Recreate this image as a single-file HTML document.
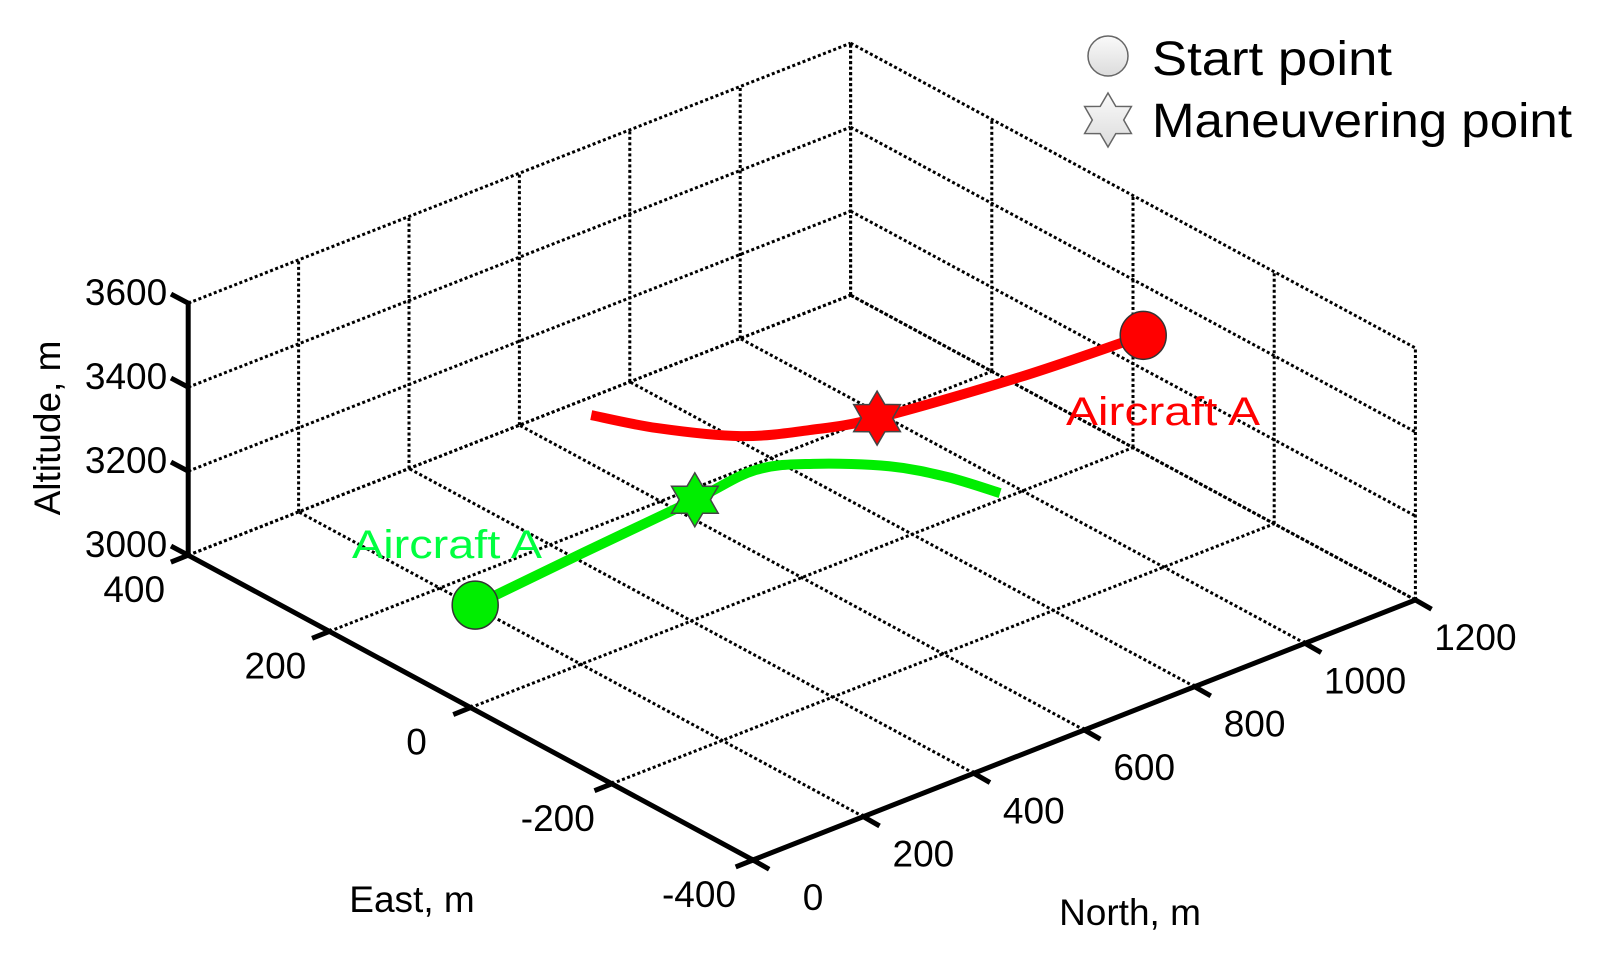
<!DOCTYPE html>
<html><head><meta charset="utf-8"><style>
html,body{margin:0;padding:0;background:#fff;}
svg{display:block;font-family:"Liberation Sans",Arial,sans-serif;}
</style></head><body>
<svg id="chart" width="1610" height="957" viewBox="0 0 1610 957" xmlns="http://www.w3.org/2000/svg">
<g id="grid"></g>
<g id="axes"></g>
<g id="series"></g>
<text x="0" y="0" font-size="37" text-anchor="middle" transform="translate(60,428) rotate(-90)">Altitude, m</text>
<text x="412" y="912" font-size="37" text-anchor="middle">East, m</text>
<text x="1130" y="925" font-size="37" text-anchor="middle">North, m</text>
<g>
  <defs><linearGradient id="lg" x1="0" y1="0" x2="0" y2="1"><stop offset="0" stop-color="#fafafa"/><stop offset="1" stop-color="#dcdcdc"/></linearGradient></defs>
  <circle cx="1108" cy="56" r="20" fill="url(#lg)" stroke="#666" stroke-width="1.5"/>
  <text x="1152" y="75" font-size="48" textLength="240" lengthAdjust="spacingAndGlyphs">Start point</text>
  <polygon id="legStar" fill="url(#lg)" stroke="#666" stroke-width="1.5"/>
  <text x="1152" y="137" font-size="48" textLength="420" lengthAdjust="spacingAndGlyphs">Maneuvering point</text>
</g>
<text x="1066" y="425" font-size="40" fill="#ff0000" textLength="194" lengthAdjust="spacingAndGlyphs">Aircraft A</text>
<text x="352" y="558" font-size="40" fill="#00ff40" textLength="190" lengthAdjust="spacingAndGlyphs">Aircraft A</text>
</svg>
<script>
const northTicks = [0,200,400,600,800,1000,1200];
const eastTicks = [-400,-200,0,200,400];
const altTicks = [3000,3200,3400,3600];
const greenN = [204,418,639,760,833,908,948,972];
const greenE = [153,168,182,191,166,117,66,10];
const greenA = [3000,3000,3000,3000,3000,3000,3000,3000];
const greenStar = 2;
const redN = [1184,974,744,650,566,494,450];
const redE = [-27,-17,6,28,60,122,181];
const redA = [3300,3300,3300,3300,3300,3300,3300];
const redStar = 2;

const NS="http://www.w3.org/2000/svg";
function px(n,e,a){
  const ee=e+400;
  return [753+0.552*n-0.706*ee, 860-0.2167*n-0.381*ee-0.42*(a-3000)];
}
function mk(tag,attrs,parent){const el=document.createElementNS(NS,tag);for(const k in attrs)el.setAttribute(k,attrs[k]);parent.appendChild(el);return el;}
const grid=document.getElementById('grid'),axes=document.getElementById('axes'),series=document.getElementById('series');
function dline(p,q){const el=mk('line',{x1:p[0],y1:p[1],x2:q[0],y2:q[1],stroke:'#000','stroke-width':3,'stroke-dasharray':'3 2.5'},grid);

}
const N0=northTicks[0],N1=northTicks[northTicks.length-1],E0=eastTicks[0],E1=eastTicks[eastTicks.length-1],A0=altTicks[0],A1=altTicks[altTicks.length-1];
northTicks.forEach(n=>{dline(px(n,E0,A0),px(n,E1,A0));dline(px(n,E1,A0),px(n,E1,A1));});
eastTicks.forEach(e=>{dline(px(N0,e,A0),px(N1,e,A0));dline(px(N1,e,A0),px(N1,e,A1));});
altTicks.forEach(a=>{dline(px(N0,E1,a),px(N1,E1,a));dline(px(N1,E1,a),px(N1,E0,a));});
function sline(p,q,name){const el=mk('line',{x1:p[0],y1:p[1],x2:q[0],y2:q[1],stroke:'#000','stroke-width':5,'stroke-linecap':'square'},axes);

}
sline(px(N0,E1,A0),px(N0,E1,A1),'altitude-axis');
sline(px(N0,E0,A0),px(N0,E1,A0),'east-axis');
sline(px(N0,E0,A0),px(N1,E0,A0),'north-axis');
function label(x,y,t,anchor,name){const el=mk('text',{x:x,y:y,'font-size':37,'text-anchor':anchor},axes);el.textContent=t;

}
altTicks.forEach(a=>{const p=px(N0,E1,a);sline(p,[p[0]-15,p[1]-8],'altitude-tick');label(p[0]-21,p[1]+2,String(a),'end','altitude-tick-label');});
eastTicks.forEach(e=>{const p=px(N0,e,A0);sline(p,[p[0]-15,p[1]+6],'east-tick');label(p[0]-54,p[1]+47,String(e),'middle','east-tick-label');});
northTicks.forEach(n=>{const p=px(n,E0,A0);sline(p,[p[0]+14,p[1]+8],'north-tick');label(p[0]+60,p[1]+50,String(n),'middle','north-tick-label');});
function smooth(pts){let d='M'+pts[0][0]+','+pts[0][1];for(let i=0;i<pts.length-1;i++){const p0=pts[Math.max(0,i-1)],p1=pts[i],p2=pts[i+1],p3=pts[Math.min(pts.length-1,i+2)];
d+=' C'+(p1[0]+(p2[0]-p0[0])/6)+','+(p1[1]+(p2[1]-p0[1])/6)+' '+(p2[0]-(p3[0]-p1[0])/6)+','+(p2[1]-(p3[1]-p1[1])/6)+' '+p2[0]+','+p2[1];}return d;}
function starPts(cx,cy,R){const r=R*0.58,out=[];for(let i=0;i<12;i++){const ang=-Math.PI/2+i*Math.PI/6,rr=i%2?r:R;out.push((cx+rr*Math.cos(ang)).toFixed(1)+','+(cy+rr*Math.sin(ang)).toFixed(1));}return out.join(' ');}
document.getElementById('legStar').setAttribute('points',starPts(1108,120,27));
function drawSeries(Ns,Es,As,si,color,name){
  const pts=Ns.map((n,i)=>px(n,Es[i],As[i]));
  const path=mk('path',{d:smooth(pts),fill:'none',stroke:color,'stroke-width':10,'stroke-linecap':'butt','stroke-linejoin':'round'},series);
  
  
  const c=mk('ellipse',{cx:pts[0][0],cy:pts[0][1],rx:23,ry:24,fill:color,stroke:'#333','stroke-width':1.5},series);
  
  
  const s=mk('polygon',{points:starPts(pts[si][0],pts[si][1],27),fill:color,stroke:'#444','stroke-width':1.5},series);
  
  
}
drawSeries(redN,redE,redA,redStar,'#ff0000','red-aircraft');
drawSeries(greenN,greenE,greenA,greenStar,'#00ee00','green-aircraft');
</script>
</body></html>
